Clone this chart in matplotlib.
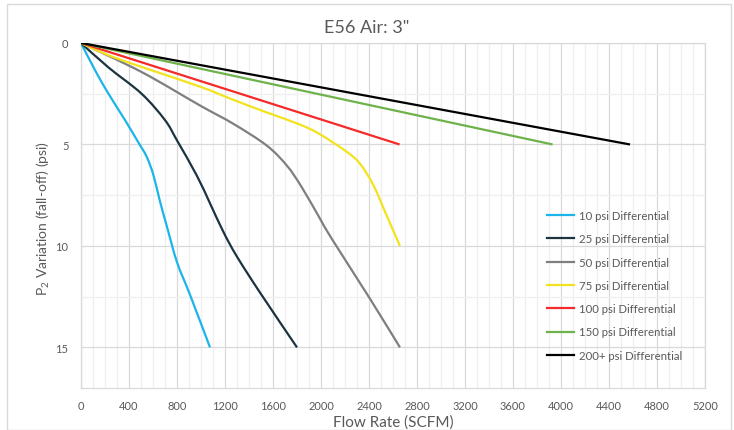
import matplotlib
matplotlib.use("Agg")
import matplotlib.pyplot as plt
import numpy as np
from matplotlib.ticker import MultipleLocator
from matplotlib.patches import Rectangle, PathPatch
from matplotlib.path import Path
from matplotlib.lines import Line2D

plt.rcParams['font.family'] = ['Lato', 'DejaVu Sans']
plt.rcParams['mathtext.fontset'] = 'custom'
plt.rcParams['mathtext.rm'] = 'Lato'

title = 'E56 Air: 3"'
xlabel = 'Flow Rate (SCFM)'
ylabel = r'P$_\mathregular{2}$ Variation (fall-off) (psi)'

labels = ['10 psi Differential', '25 psi Differential', '50 psi Differential',
          '75 psi Differential', '100 psi Differential', '150 psi Differential',
          '200+ psi Differential']
colors = ['#1BB5EA', '#1C3340', '#7F7F7F', '#F2E31E', '#F52A2A', '#6DB24A', '#000000']

flow_10 = [0, 117, 228, 367, 478, 547, 603, 658, 714, 800, 908, 1075]
p_10 = [0, 1.34, 2.49, 3.8, 4.9, 5.6, 6.5, 7.8, 9.0, 10.8, 12.4, 15.0]

flow_25 = [0, 228, 505, 700, 800, 964, 1075, 1186, 1297, 1492, 1800]
p_25 = [0, 1.2, 2.5, 3.8, 4.8, 6.52, 7.9, 9.3, 10.5, 12.3, 15.0]

flow_50 = [0, 505, 992, 1269, 1547, 1714, 1839, 1992, 2089, 2408, 2658]
p_50 = [0, 1.43, 3.08, 3.98, 5.05, 6.03, 7.1, 8.66, 9.64, 12.6, 15.0]

flow_75 = [0, 228, 505, 992, 1269, 1547, 1825, 1992, 2214, 2325, 2436, 2547, 2658]
p_75 = [0, 0.6, 1.18, 2.15, 2.8, 3.42, 4.02, 4.5, 5.36, 5.95, 7.0, 8.5, 10.0]

flow_100 = [0, 2655]
p_100 = [0, 5]

flow_150 = [0, 3930]
p_150 = [0, 5]

flow_200 = [0, 4575]
p_200 = [0, 5]

series = [(flow_10, p_10), (flow_25, p_25), (flow_50, p_50), (flow_75, p_75),
          (flow_100, p_100), (flow_150, p_150), (flow_200, p_200)]


def smooth_path(x, y):
    """Excel-style smoothed line: cubic Bezier segments (Catmull-Rom tangents) through the points."""
    pts = np.column_stack([x, y]).astype(float)
    n = len(pts)
    if n < 3:
        return Path(pts, [Path.MOVETO] + [Path.LINETO] * (n - 1))
    verts = [pts[0]]
    codes = [Path.MOVETO]
    for i in range(n - 1):
        p0 = pts[i - 1] if i > 0 else pts[i]
        p1 = pts[i]
        p2 = pts[i + 1]
        p3 = pts[i + 2] if i + 2 < n else pts[i + 1]
        c1 = p1 + (p2 - p0) / 6.0
        c2 = p2 - (p3 - p1) / 6.0
        verts += [c1, c2, p2]
        codes += [Path.CURVE4] * 3
    return Path(np.array(verts), codes)


W, H = 734, 431
fig = plt.figure(figsize=(W / 100, H / 100), dpi=100)
ax = fig.add_axes([81 / W, 1 - 389 / H, (705 - 81) / W, (389 - 44) / H])

handles = []
for (x, y), c, lab in zip(series, colors, labels):
    ax.add_patch(PathPatch(smooth_path(x, y), facecolor='none', edgecolor=c, lw=1.6,
                           capstyle='butt', joinstyle='round', zorder=3))
    handles.append(Line2D([], [], color=c, lw=1.6, label=lab))

ax.set_xlim(0, 5200)
ax.set_ylim(17, 0)
ax.xaxis.set_major_locator(MultipleLocator(400))
ax.xaxis.set_minor_locator(MultipleLocator(100))
ax.yaxis.set_major_locator(MultipleLocator(5))
ax.yaxis.set_minor_locator(MultipleLocator(2.5))
ax.grid(which='major', color='#D9D9D9', lw=0.9, zorder=0)
ax.grid(which='minor', color='#EFEFEF', lw=0.9, zorder=0)
ax.set_axisbelow(True)
for s in ax.spines.values():
    s.set_color('#D9D9D9')
    s.set_linewidth(0.9)
ax.tick_params(which='both', length=0, labelsize=8, colors='#595959')
ax.tick_params(axis='y', pad=9)
ax.tick_params(axis='x', pad=9)

fig.text(367 / W, 1 - 28 / H, title, ha='center', va='center', fontsize=13, color='#595959')
fig.text(393 / W, 1 - 423 / H, xlabel, ha='center', va='center', fontsize=11, color='#595959')
fig.text(43 / W, 1 - 218 / H, ylabel, ha='center', va='center', rotation=90, fontsize=10, color='#595959')

leg = ax.legend(handles=handles, loc='upper left', bbox_to_anchor=(547 / W, 1 - 211 / H),
                bbox_transform=fig.transFigure,
                frameon=False, fontsize=8.2, handlelength=2.4, handletextpad=0.4,
                labelspacing=1.08, borderpad=0, borderaxespad=0)
for t in leg.get_texts():
    t.set_color('#595959')

fig.patches.append(Rectangle((7 / W, 0), (731 - 7) / W, 1 - 5 / H, transform=fig.transFigure,
                             fill=False, edgecolor='#D9D9D9', lw=1.0))

fig.savefig('out.png', dpi=100)
